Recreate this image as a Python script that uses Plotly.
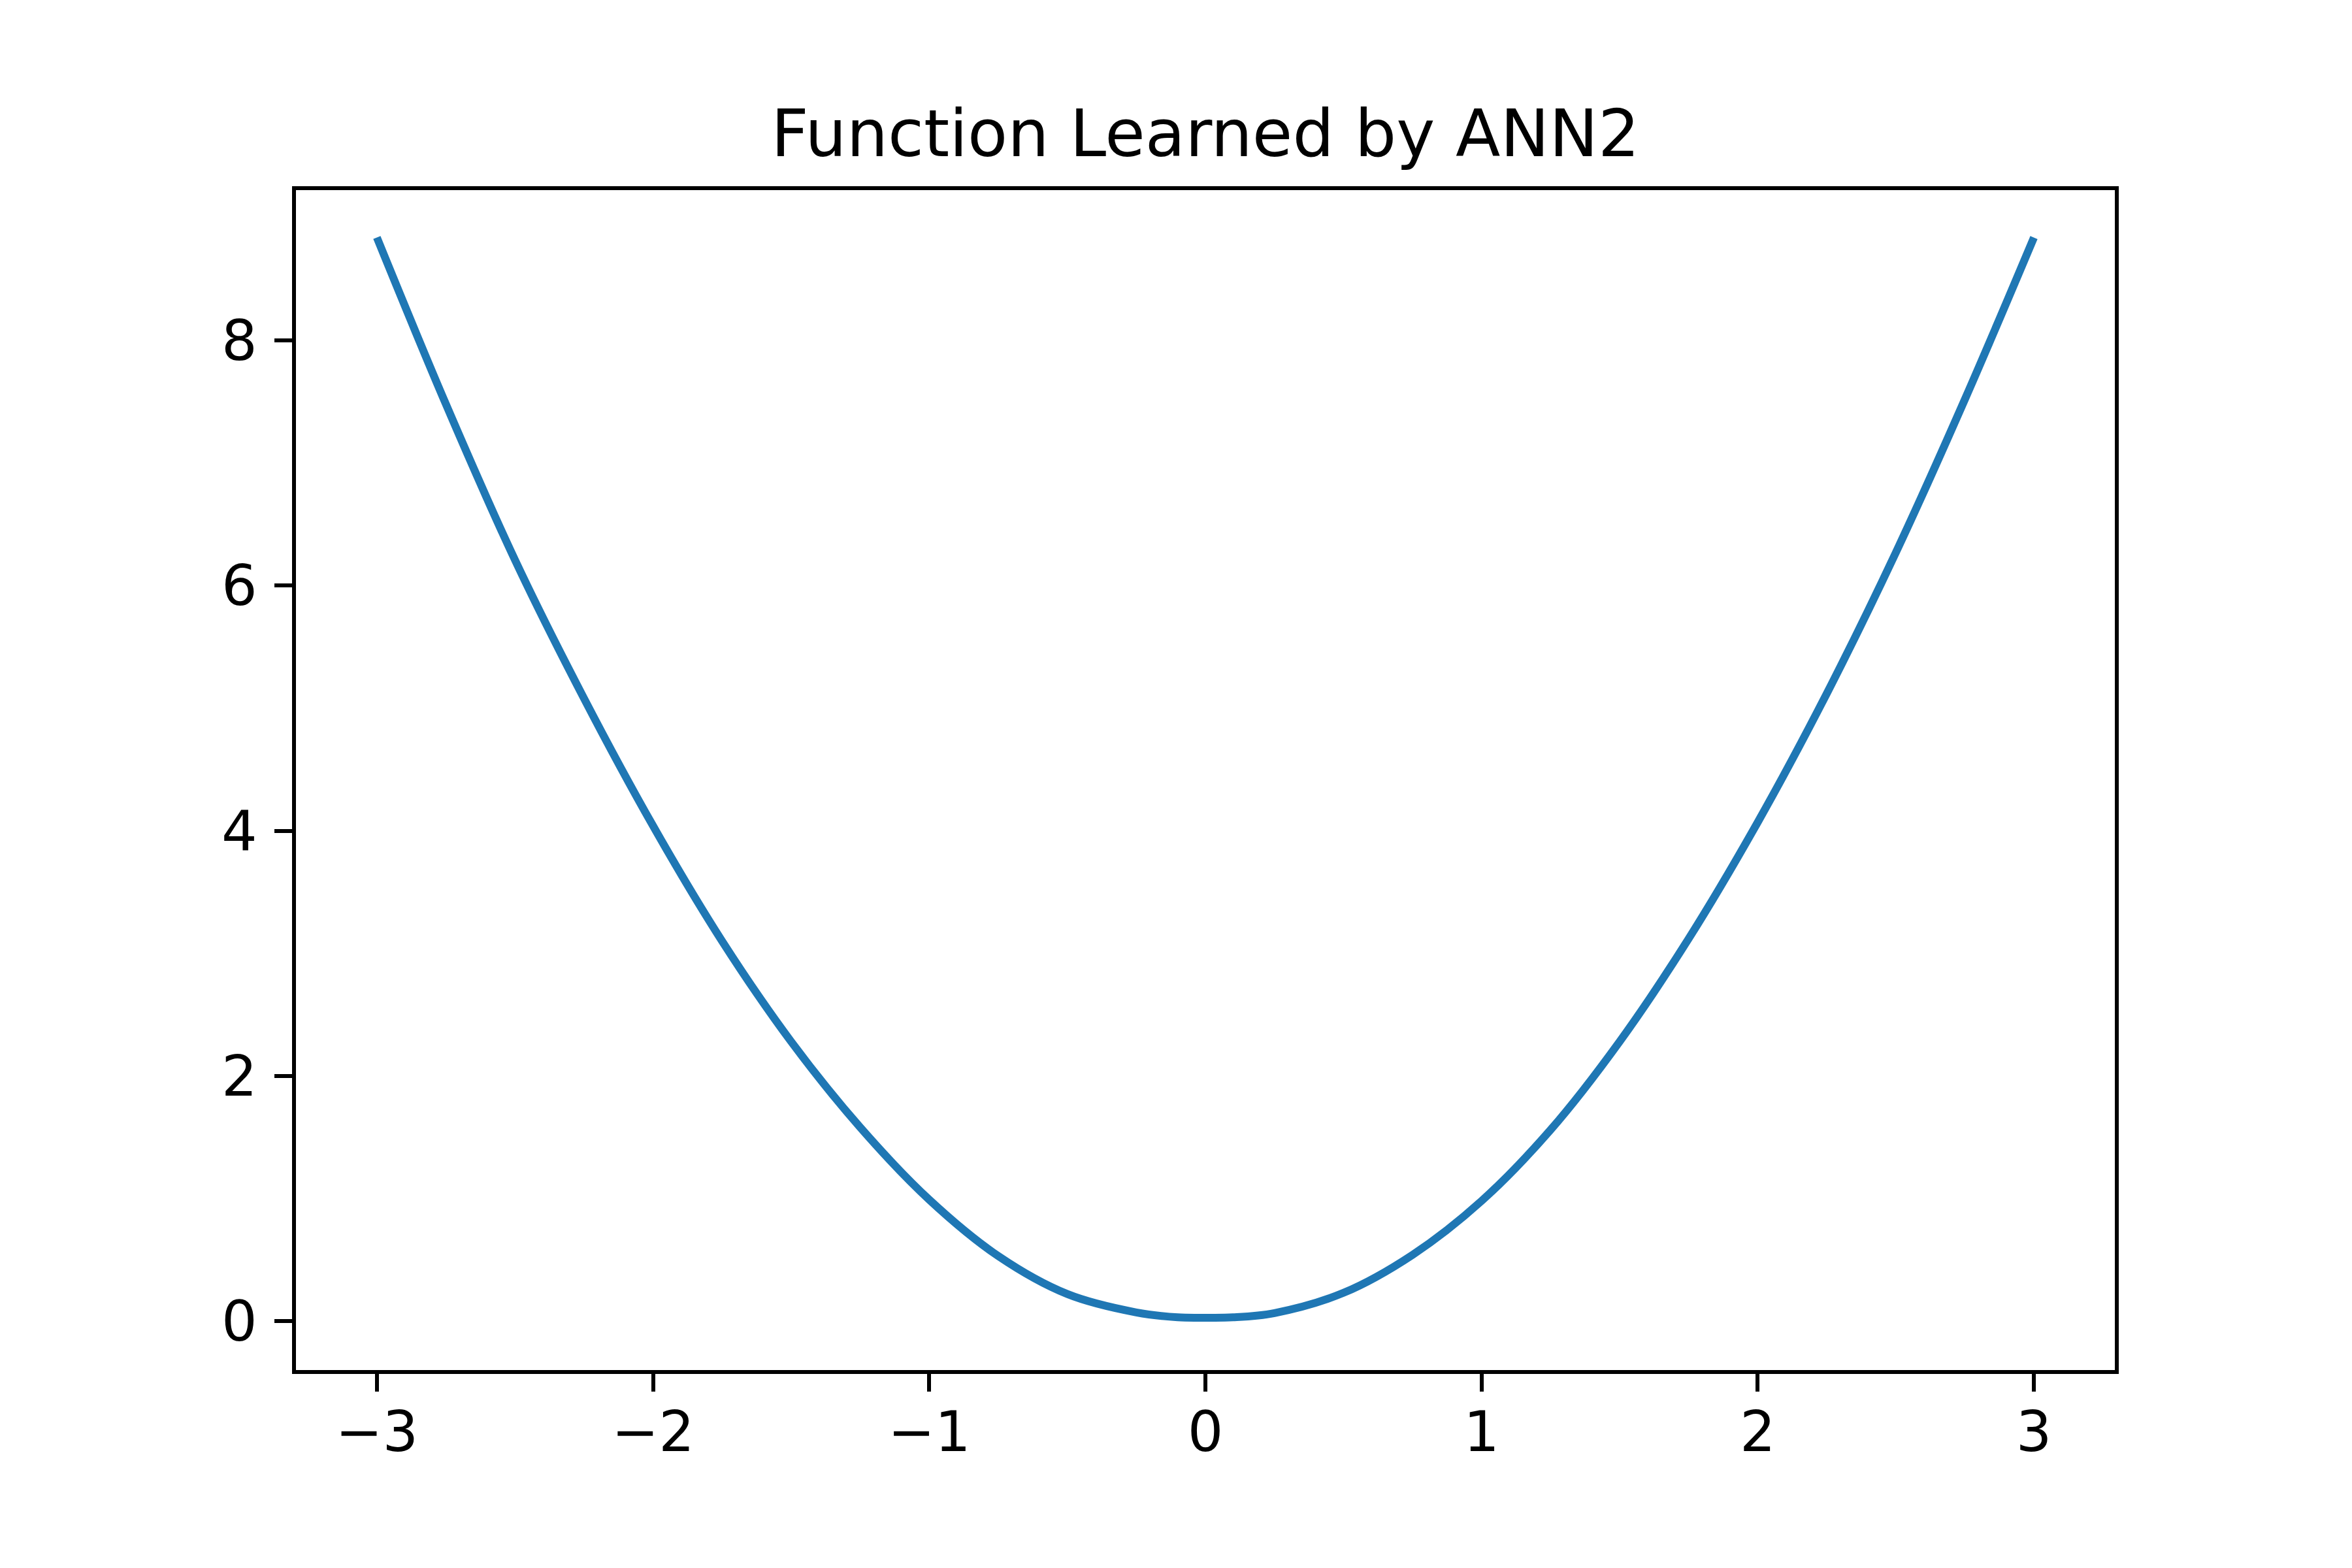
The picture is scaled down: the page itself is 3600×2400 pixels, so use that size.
import plotly.graph_objects as go

# Data
x_vals = [-3.0, -2.75, -2.5, -2.25, -2.0, -1.75, -1.5, -1.25, -1.0, -0.75, -0.5, -0.25,
          -0.1, 0.0, 0.1, 0.25, 0.5, 0.75, 1.0, 1.25, 1.5, 1.75, 2.0, 2.25, 2.5, 2.75, 3.0]
y_vals = [8.84, 7.48, 6.21, 5.08, 4.04, 3.10, 2.28, 1.58, 0.99, 0.53, 0.22, 0.07,
          0.03, 0.027, 0.03, 0.065, 0.23, 0.54, 0.98, 1.56, 2.28, 3.12, 4.07, 5.12, 6.27, 7.52, 8.84]

x_tick_vals = [-3, -2, -1, 0, 1, 2, 3]
x_tick_text = ["\u22123", "\u22122", "\u22121", "0", "1", "2", "3"]
y_tick_vals = [0, 2, 4, 6, 8]
y_tick_text = ["0", "2", "4", "6", "8"]

title_text = "Function Learned by ANN2"

FONT = "DejaVu Sans"

fig = go.Figure()
fig.add_trace(go.Scatter(x=x_vals, y=y_vals, mode="lines",
                         line=dict(color="#1f77b4", width=12, shape="spline", smoothing=1.0),
                         showlegend=False))

axis_common = dict(
    showline=True, linecolor="black", linewidth=6, mirror=True,
    ticks="outside", ticklen=27, tickwidth=6, tickcolor="black",
    showgrid=False, zeroline=False,
    tickfont=dict(family=FONT, size=86, color="black"),
)

fig.update_layout(
    width=3600, height=2400,
    margin=dict(l=445, r=371, t=283, b=311),
    paper_bgcolor="white", plot_bgcolor="white",
    title=dict(text=title_text, x=0.5, xref="paper", xanchor="center",
               y=1, yref="paper", yanchor="bottom",
               pad=dict(b=52),
               font=dict(family=FONT, size=100, color="black")),
    xaxis=dict(range=[-3.293, 3.293], tickvals=x_tick_vals, ticktext=x_tick_text,
               ticklabelstandoff=-12, **axis_common),
    yaxis=dict(range=[-0.400, 9.227], tickvals=y_tick_vals, ticktext=y_tick_text,
               ticklabelstandoff=9, **axis_common),
)

fig.write_html("out.html")
